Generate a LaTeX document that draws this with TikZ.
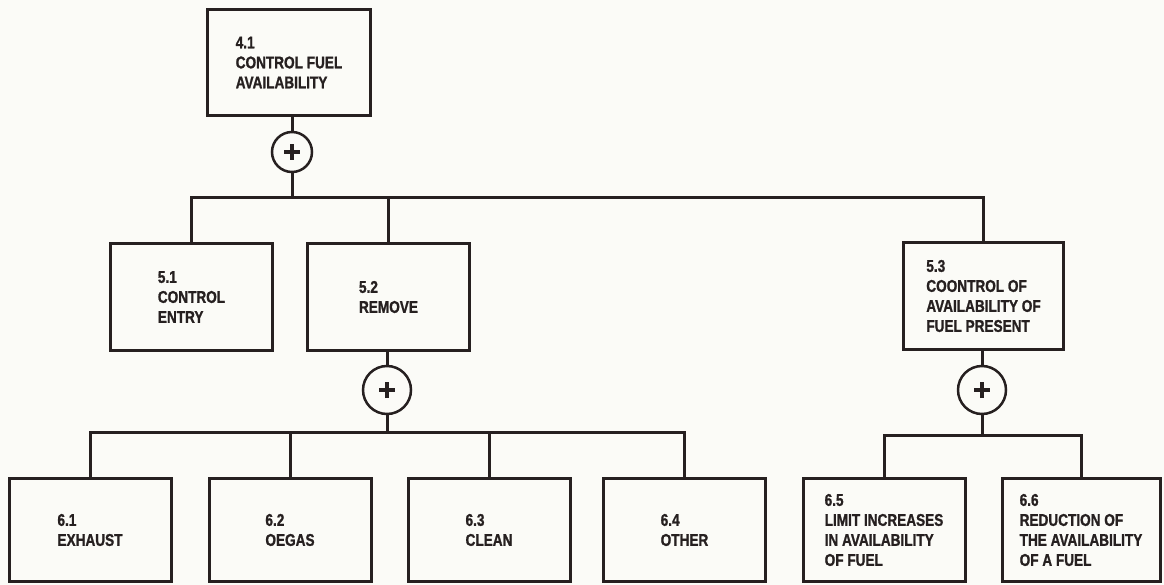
\documentclass[tikz,border=0pt]{standalone}
\usepackage{fontspec}
\newfontfamily\condfont{Liberation Sans}[FakeStretch=0.8, BoldFeatures={FakeBold=1.2}]
\definecolor{ink}{RGB}{38,32,32}
\definecolor{paper}{RGB}{251,251,247}
\begin{document}
\begin{tikzpicture}[x=1pt,y=-1pt,
  line width=3pt, draw=ink,
  box/.style={draw=ink, line width=3pt, rectangle, align=left, inner sep=0pt,
    minimum width=162pt, text=ink,
    font=\condfont\bfseries\fontsize{17}{20}\selectfont},
  gate/.style={draw=ink, line width=2.5pt, circle, inner sep=0pt,
    path picture={\draw[ink, line width=4pt]
      ([xshift=-8pt]path picture bounding box.center) -- ([xshift=8pt]path picture bounding box.center)
      ([yshift=-8pt]path picture bounding box.center) -- ([yshift=8pt]path picture bounding box.center);}},
  wire/.style={draw=ink, line width=3pt, line join=miter}
]
\fill[paper] (0,0) rectangle (1164,585);
\useasboundingbox (0,0) rectangle (1164,585);

% level 4
\node[box, minimum width=163pt, minimum height=106pt] (n41) at (289,62.5) {4.1\\CONTROL FUEL\\AVAILABILITY};
\node[gate, minimum size=40pt] (g1) at (292,152) {};

% level 5
\node[box, minimum height=107pt] (n51) at (191.5,297) {5.1\\CONTROL\\ENTRY};
\node[box, minimum height=107pt] (n52) at (388.5,297) {5.2\\REMOVE};
\node[box, minimum width=160pt, minimum height=107pt] (n53) at (983.5,296) {5.3\\COONTROL OF\\AVAILABILITY OF\\FUEL PRESENT};
\node[gate, minimum size=48pt] (g2) at (387,390) {};
\node[gate, minimum size=48pt] (g3) at (982,390) {};

% level 6
\node[box, minimum height=103pt] (n61) at (90,530) {6.1\\EXHAUST};
\node[box, minimum height=103pt] (n62) at (290,530) {6.2\\OEGAS};
\node[box, minimum height=103pt] (n63) at (489,530) {6.3\\CLEAN};
\node[box, minimum height=103pt] (n64) at (684.5,530) {6.4\\OTHER};
\node[box, minimum height=103pt] (n65) at (884,530) {6.5\\LIMIT INCREASES\\IN AVAILABILITY\\OF FUEL};
\node[box, minimum width=158pt, minimum height=103pt] (n66) at (1081,530) {6.6\\REDUCTION OF\\THE AVAILABILITY\\OF A FUEL};

% junctions
\coordinate (j1) at (292,198);
\coordinate (j2) at (387,432);
\coordinate (j3) at (982,435);

% connectors level 4 -> 5
\draw[wire] (n41.south -| g1) -- (g1.north);
\draw[wire] (g1.south) -- (j1);
\draw[wire] (n51.north) |- (j1) -| (n53.north);
\draw[wire] (n52.north) -- (n52.north |- j1);

% connectors 5.2 -> 6.1..6.4
\draw[wire] (n52.south -| g2) -- (g2.north);
\draw[wire] (g2.south) -- (j2);
\draw[wire] (n61.north) |- (j2) -| (n64.north);
\draw[wire] (n62.north) -- (n62.north |- j2);
\draw[wire] (n63.north) -- (n63.north |- j2);

% connectors 5.3 -> 6.5, 6.6
\draw[wire] (n53.south -| g3) -- (g3.north);
\draw[wire] (g3.south) -- (j3);
\draw[wire] (n65.north) |- (j3) -| (n66.north);
\end{tikzpicture}
\end{document}
